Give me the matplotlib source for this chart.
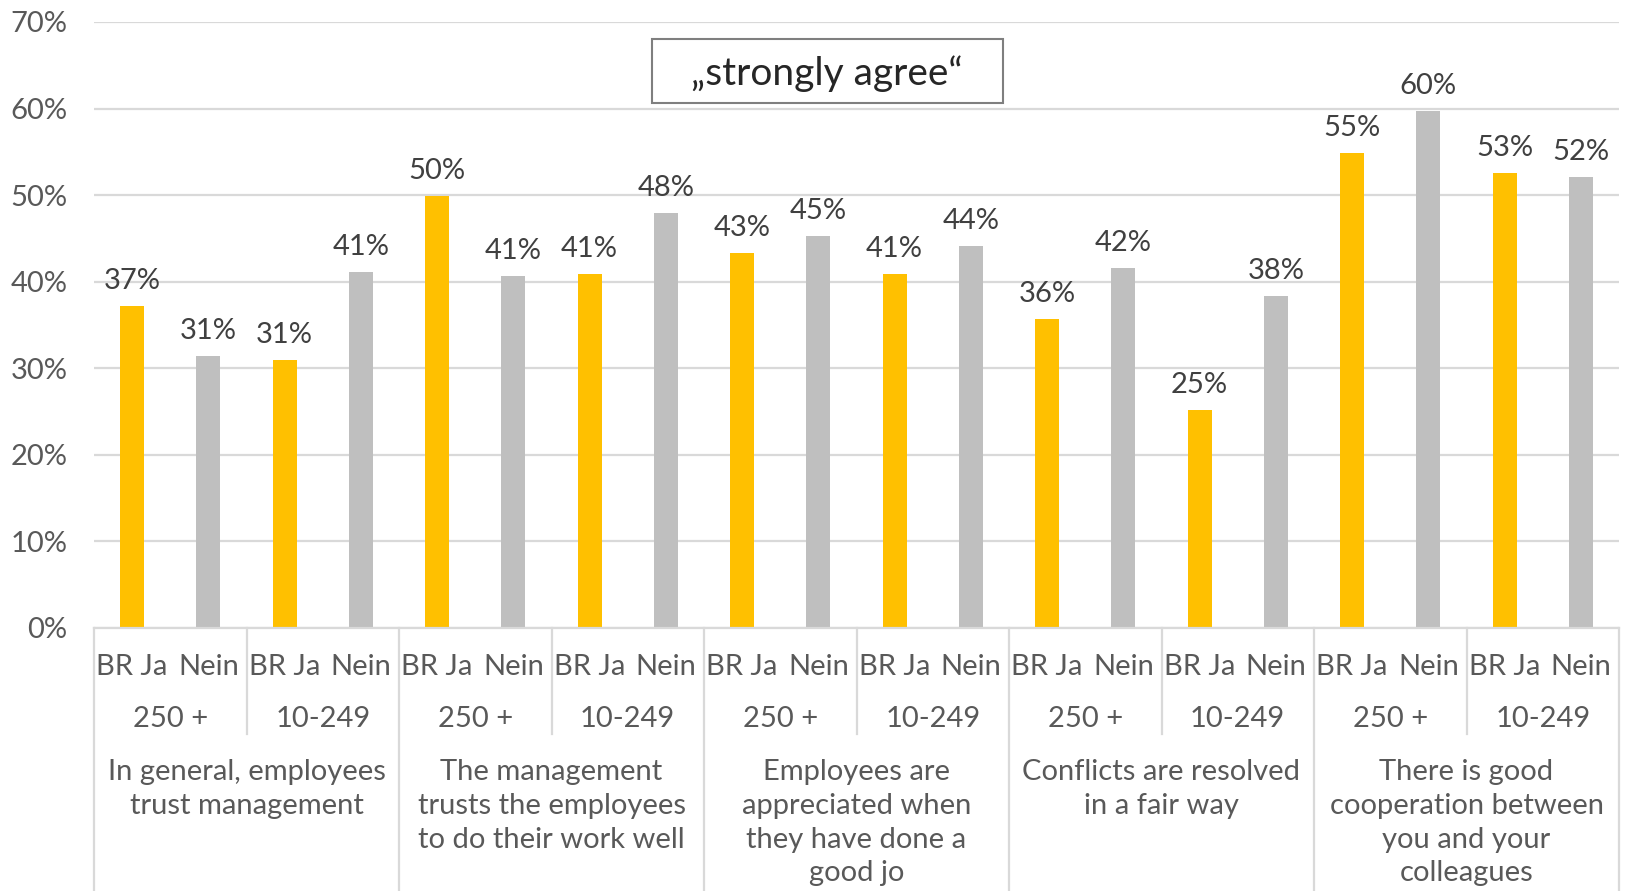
import matplotlib.pyplot as plt
from matplotlib.patches import Rectangle

plt.rcParams['font.family'] = ['Lato', 'DejaVu Sans']

# bar values in percent, order: group -> size class -> (BR Ja, Nein)
values = [37.2, 31.4, 31.0, 41.1,
          49.9, 40.7, 40.9, 47.9,
          43.3, 45.3, 40.9, 44.1,
          35.7, 41.6, 25.2, 38.4,
          54.9, 59.7, 52.6, 52.1]
bar_labels = ["BR Ja", "Nein"] * 10
sizes = ["250 +", "10-249"] * 5
groups = ["In general, employees\ntrust management",
          "The management\ntrusts the employees\nto do their work well",
          "Employees are\nappreciated when\nthey have done a\ngood jo",
          "Conflicts are resolved\nin a fair way",
          "There is good\ncooperation between\nyou and your\ncolleagues"]
colors = ["#FFC000", "#BFBFBF"] * 10

TXT = "#595959"
GRID = "#D9D9D9"

fig = plt.figure(figsize=(16.28, 8.91), dpi=100)
W, H = 1628, 891
ax = fig.add_axes([94 / W, (H - 628) / H, (1619 - 94) / W, (628 - 22) / H])

x = list(range(len(values)))
ax.bar(x, values, width=0.315, color=colors, zorder=2)
ax.set_xlim(-0.5, len(values) - 0.5)
ax.set_ylim(0, 70)
ax.set_yticks(range(0, 71, 10))
ax.set_yticklabels([f"{v}%" for v in range(0, 71, 10)])
ax.tick_params(axis='y', length=0, pad=19, labelsize=21, labelcolor=TXT)
ax.set_xticks([])
ax.grid(axis='y', color=GRID, linewidth=1.6, zorder=0)
for s in ["top", "right", "left"]:
    ax.spines[s].set_visible(False)
ax.spines["bottom"].set_color(GRID)
ax.spines["bottom"].set_linewidth(1.6)

# value labels above bars
for xi, v in zip(x, values):
    ax.annotate(f"{round(v)}%", (xi, v), xytext=(0, 12), textcoords='offset pixels',
                ha='center', va='bottom', fontsize=21, color="#404040")

# multi-level category axis
tr = ax.get_xaxis_transform()
px = 628 - 22
def ay(py):
    return (628 - py) / px

for xi, lab in zip(x, bar_labels):
    ax.text(xi, ay(667), lab, transform=tr, ha='center', va='center',
            fontsize=21, color=TXT)
for i, lab in enumerate(sizes):
    ax.text(2 * i + 0.5, ay(719), lab, transform=tr, ha='center', va='center',
            fontsize=21, color=TXT)
for i, lab in enumerate(groups):
    ax.text(4 * i + 1.5, ay(759), lab, transform=tr, ha='center', va='top',
            fontsize=21, color=TXT, linespacing=1.37)

# separators
for i in range(len(sizes) + 1):
    xs = 2 * i - 0.5
    bottom = ay(891) if i % 2 == 0 else ay(734)
    ax.plot([xs, xs], [0, bottom], transform=tr, color=GRID, linewidth=1.6,
            clip_on=False)

# title box
fig.patches.append(Rectangle((652 / W, (H - 103) / H), (1003 - 652) / W, 64 / H,
                             transform=fig.transFigure, fill=False,
                             edgecolor="#7F7F7F", linewidth=1.5))
fig.text(827 / W, (H - 74) / H, "\u201estrongly agree\u201c", ha='center', va='center',
         fontsize=28, color="#262626")

fig.savefig("out.png", dpi=100)
